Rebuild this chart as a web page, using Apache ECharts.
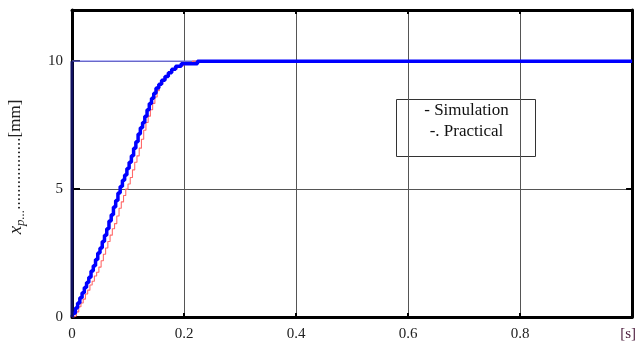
<!DOCTYPE html>
<html>
<head>
<meta charset="utf-8">
<script src="https://cdn.jsdelivr.net/npm/echarts@6/dist/echarts.min.js"></script>
<style>
html,body{margin:0;padding:0;background:#fff;}
#c{width:639px;height:347px;}
</style>
</head>
<body>
<div id="c"></div>
<script>
// Simulation (thick blue)
const simulation = [
[0,0],[0.002,0.15],[0.006,0.35],[0.010,0.55],[0.014,0.75],[0.018,0.95],[0.022,1.15],[0.026,1.35],
[0.030,1.55],[0.034,1.8],[0.038,2.0],[0.042,2.25],[0.046,2.5],[0.050,2.7],[0.054,2.95],[0.058,3.2],
[0.062,3.45],[0.066,3.75],[0.070,4.0],[0.074,4.3],[0.078,4.55],[0.082,4.85],[0.086,5.1],[0.090,5.35],
[0.094,5.55],[0.098,5.8],[0.102,6.05],[0.106,6.3],[0.110,6.6],[0.114,6.85],[0.118,7.15],[0.122,7.4],
[0.126,7.6],[0.130,7.85],[0.134,8.1],[0.138,8.35],[0.142,8.55],[0.146,8.75],[0.150,8.95],[0.155,9.1],
[0.160,9.25],[0.166,9.4],[0.172,9.55],[0.178,9.68],[0.185,9.8],[0.195,9.9],[0.220,9.9],
[0.224,10],[1.0,10]
];
// Practical (thin red)
const practical = [
[0,0],[0.004,0.05],[0.008,0.2],[0.012,0.4],[0.016,0.55],[0.020,0.7],[0.024,0.9],[0.028,1.05],
[0.032,1.25],[0.036,1.4],[0.040,1.6],[0.044,1.75],[0.048,1.95],[0.052,2.2],[0.056,2.45],[0.060,2.7],
[0.064,2.95],[0.068,3.2],[0.072,3.45],[0.076,3.65],[0.080,3.95],[0.084,4.25],[0.088,4.5],[0.092,4.75],
[0.096,5.0],[0.100,5.2],[0.104,5.45],[0.108,5.75],[0.112,6.05],[0.116,6.3],[0.120,6.6],[0.124,6.95],
[0.128,7.3],[0.132,7.6],[0.136,7.85],[0.140,8.1],[0.144,8.35],[0.148,8.6],[0.152,8.85],[0.156,9.1],
[0.162,9.3],[0.168,9.45],[0.174,9.6],[0.180,9.7],[0.188,9.82],[0.200,9.92],[0.215,10],[1.0,10]
];
// Set point (reference step)
const setpointRise = [[0,0],[0,10]];
const setpointLevel = [[0,10],[1,10]];

const xTicks = [0,0.2,0.4,0.6,0.8];
const xUnit = '[s]';
const yTicks = [0,5,10];
const legendLines = ['- Simulation','-. Practical'];

const serif = 'Liberation Serif';
const chart = echarts.init(document.getElementById('c'), null, {renderer:'canvas'});
const axisLineStyle = {color:'#000', width:3};
chart.setOption({
  animation:false,
  backgroundColor:'#fff',
  grid:{left:72, right:5, top:10, bottom:30},
  xAxis:[{
    type:'value', min:0, max:1, interval:0.2,
    axisLine:{show:true, onZero:false, lineStyle:axisLineStyle},
    axisTick:{show:true, inside:true, length:4, lineStyle:{color:'#000', width:2}},
    splitLine:{show:true, lineStyle:{color:'#555', width:1}},
    axisLabel:{
      margin:10, fontFamily:serif, fontSize:15, color:'#222',
      formatter:function(v){ if (Math.abs(v-1)<1e-9) return '{u|'+xUnit+'}'; return xTicks.indexOf(Math.round(v*10)/10)>=0 ? String(Math.round(v*10)/10) : ''; },
      rich:{u:{fontFamily:serif, fontSize:15, color:'#4b1c3c', padding:[0,0,0,-8]}}
    }
  },{
    type:'value', position:'top', min:0, max:1, interval:0.2,
    axisLine:{show:true, onZero:false, lineStyle:axisLineStyle},
    axisTick:{show:true, inside:true, length:4, lineStyle:{color:'#000', width:2}},
    splitLine:{show:false}, axisLabel:{show:false}
  }],
  yAxis:[{
    type:'value', min:0, max:12, interval:5,
    axisLine:{show:true, onZero:false, lineStyle:axisLineStyle},
    axisTick:{show:true, inside:true, length:8, lineStyle:{color:'#000', width:2}},
    splitLine:{show:true, lineStyle:{color:'#555', width:1}},
    axisLabel:{margin:9, fontFamily:serif, fontSize:15, color:'#222', showMaxLabel:false,
      formatter:function(v){ return yTicks.indexOf(v)>=0 ? String(v) : ''; }}
  },{
    type:'value', position:'right', min:0, max:12, interval:5,
    axisLine:{show:true, onZero:false, lineStyle:axisLineStyle},
    axisTick:{show:true, inside:true, length:6, lineStyle:{color:'#000', width:2}},
    splitLine:{show:false}, axisLabel:{show:false}
  }],
  series:[
    {type:'line', name:'Set point level', data:setpointLevel, showSymbol:false, lineStyle:{color:'#7070f0', width:1.3}},
    {type:'line', name:'Practical', data:practical, step:'end', showSymbol:false, lineStyle:{color:'#ff6a6a', width:1.1}},
    {type:'line', name:'Simulation', data:simulation, step:'end', showSymbol:false, lineStyle:{color:'#0000ff', width:3.5}},
    {type:'line', name:'Set point rise', data:setpointRise, showSymbol:false, lineStyle:{color:'#101060', width:3}}
  ],
  graphic:[
    {type:'group', left:396, top:99, children:[
      {type:'rect', shape:{x:0,y:0,width:139,height:57}, style:{fill:'#fff', stroke:'#333', lineWidth:1}},
      {type:'text', x:70, y:11, style:{text:legendLines[0], font:'17px "Liberation Serif"', fill:'#111', textAlign:'center', textVerticalAlign:'middle'}},
      {type:'text', x:70, y:32, style:{text:legendLines[1], font:'17px "Liberation Serif"', fill:'#111', textAlign:'center', textVerticalAlign:'middle'}}
    ]},
    {type:'text', x:16, y:167, rotation:Math.PI/2,
      style:{
        text:'{i|x}{s|p...}{n|.................[mm]}',
        textAlign:'center', textVerticalAlign:'middle',
        rich:{
          i:{fontFamily:serif, fontStyle:'italic', fontSize:19, fill:'#222', color:'#222'},
          s:{fontFamily:serif, fontStyle:'italic', fontSize:13, fill:'#222', color:'#222', padding:[9,0,0,0]},
          n:{fontFamily:serif, fontSize:17, fill:'#222', color:'#222'}
        }
      }}
  ]
});
</script>
</body>
</html>
